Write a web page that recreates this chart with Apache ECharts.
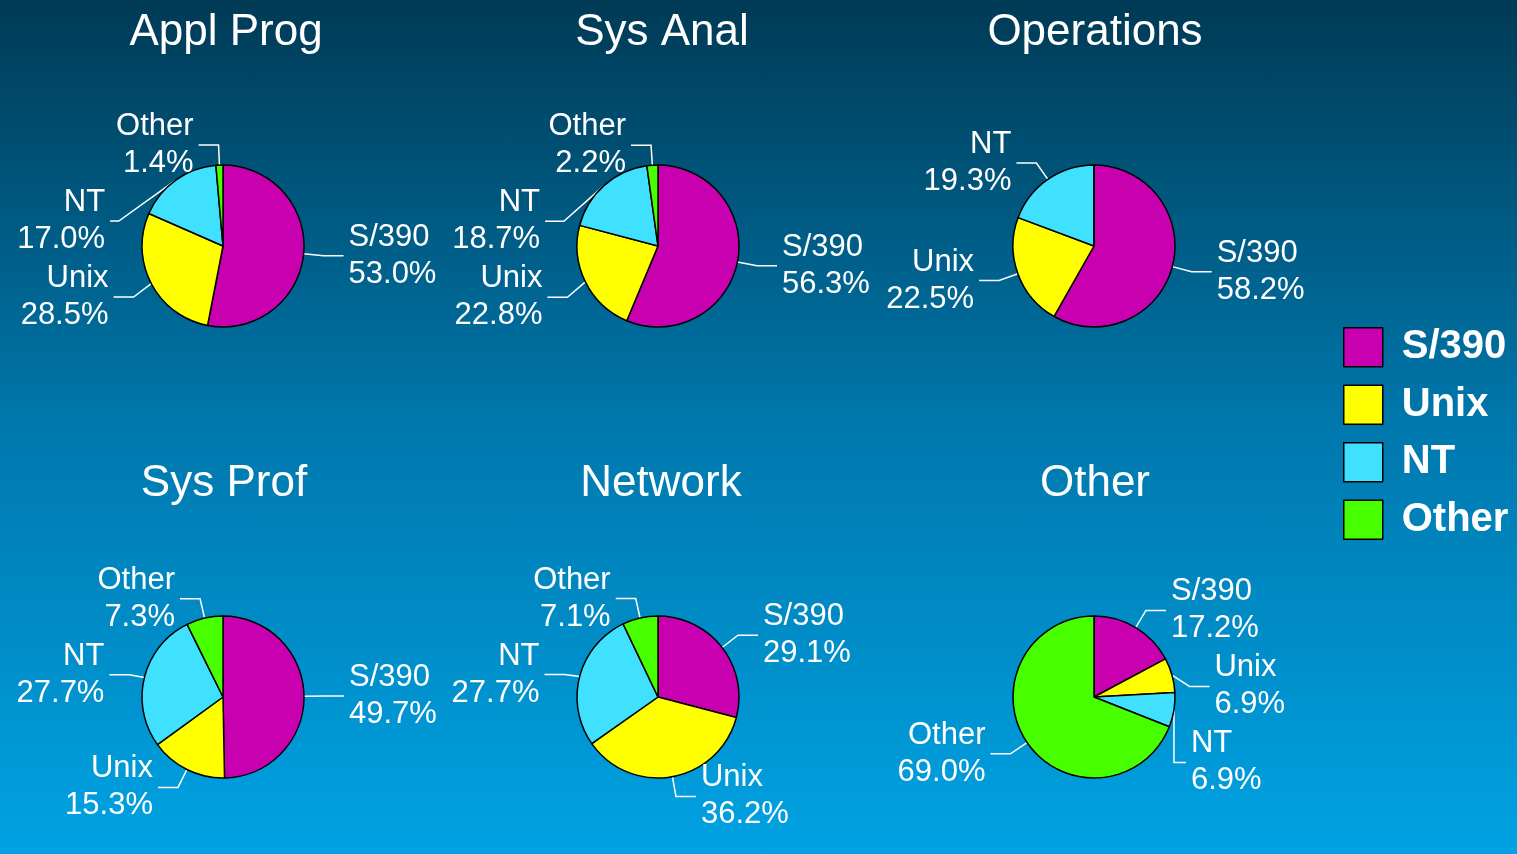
<!DOCTYPE html>
<html lang="en">
<head>
    <meta charset="UTF-8">
    <title>Platform mix by job</title>
    <script src="https://cdn.jsdelivr.net/npm/echarts@6/dist/echarts.min.js"></script>
    <style type="text/css">
        html, body{
            margin: 0;
            padding: 0;
            width: 100%;
            height: 100%;
            overflow: hidden;
            background: linear-gradient(to bottom, #003a55 0%, #0078ad 50%, #00a2e3 100%);
        }
        #main{
            width: 1517px;
            height: 854px;
        }
    </style>
</head>
<body>
    <div id="main"></div>
    <script>
        // platforms (slice order, clockwise from 12 o'clock)
        var platforms = ['S/390', 'Unix', 'NT', 'Other'];
        var colors = ['#c800b0', '#ffff00', '#40e0ff', '#48ff00'];
        // job groups
        var jobs = ['Appl Prog', 'Sys Anal', 'Operations', 'Sys Prof', 'Network', 'Other'];
        // share in percent, one array per job
        var applProg   = [53.0, 28.5, 17.0, 1.4];
        var sysAnal    = [56.3, 22.8, 18.7, 2.2];
        var operations = [58.2, 22.5, 19.3, 0];
        var sysProf    = [49.7, 15.3, 27.7, 7.3];
        var network    = [29.1, 36.2, 27.7, 7.1];
        var otherJobs  = [17.2, 6.9, 6.9, 69.0];
        var shares = [applProg, sysAnal, operations, sysProf, network, otherJobs];

        var myChart = echarts.init(document.getElementById('main'), null, {renderer: 'canvas'});

        // pie centres in the grid
        var centers = [[223, 246], [658, 246], [1094, 246], [223, 697], [658, 697], [1094, 697]];
        var titleX = [221, 657, 1090, 219, 656, 1090];
        var titleTops = [6, 6, 6, 457, 457, 457];

        var titles = jobs.map(function (name, i) {
            return {
                text: name,
                left: titleX[i],
                top: titleTops[i],
                textAlign: 'center',
                textStyle: {
                    color: '#fff',
                    fontSize: 44,
                    fontWeight: 'normal',
                    fontFamily: 'Liberation Sans'
                }
            };
        });

        var series = shares.map(function (vals, i) {
            return {
                // series ids kept apart from the legend names
                name: 'job' + i,
                type: 'pie',
                center: centers[i],
                radius: 81,
                startAngle: 90,
                clockwise: true,
                avoidLabelOverlap: true,
                animation: false,
                data: platforms.map(function (p, j) {
                    return {
                        name: p,
                        value: vals[j],
                        itemStyle: {color: colors[j]},
                        label: {show: vals[j] > 0},
                        labelLine: {show: vals[j] > 0}
                    };
                }),
                itemStyle: {
                    borderColor: '#000',
                    borderWidth: 1.5
                },
                label: {
                    show: true,
                    position: 'outside',
                    color: '#fff',
                    fontSize: 31,
                    lineHeight: 37,
                    fontFamily: 'Liberation Sans',
                    formatter: function (p) {
                        return p.name + '\n' + p.value.toFixed(1) + '%';
                    }
                },
                labelLine: {
                    show: true,
                    length: 20,
                    length2: 20,
                    lineStyle: {color: '#fff', width: 1.5}
                },
                emphasis: {disabled: true}
            };
        });

        var option = {
            backgroundColor: 'transparent',
            color: colors,
            title: titles,
            legend: {
                data: platforms.map(function (p, j) {
                    return {name: p, itemStyle: {color: colors[j]}};
                }),
                orient: 'vertical',
                left: 1338,
                top: 322,
                padding: 5,
                itemWidth: 39,
                itemHeight: 39,
                itemGap: 17,
                icon: 'rect',
                selectedMode: false,
                itemStyle: {borderColor: '#000', borderWidth: 1.5},
                textStyle: {
                    color: '#fff',
                    fontSize: 40,
                    fontWeight: 'bold',
                    fontFamily: 'Liberation Sans',
                    padding: [0, 0, 0, 14]
                }
            },
            series: series
        };

        myChart.setOption(option);
    </script>
</body>
</html>
